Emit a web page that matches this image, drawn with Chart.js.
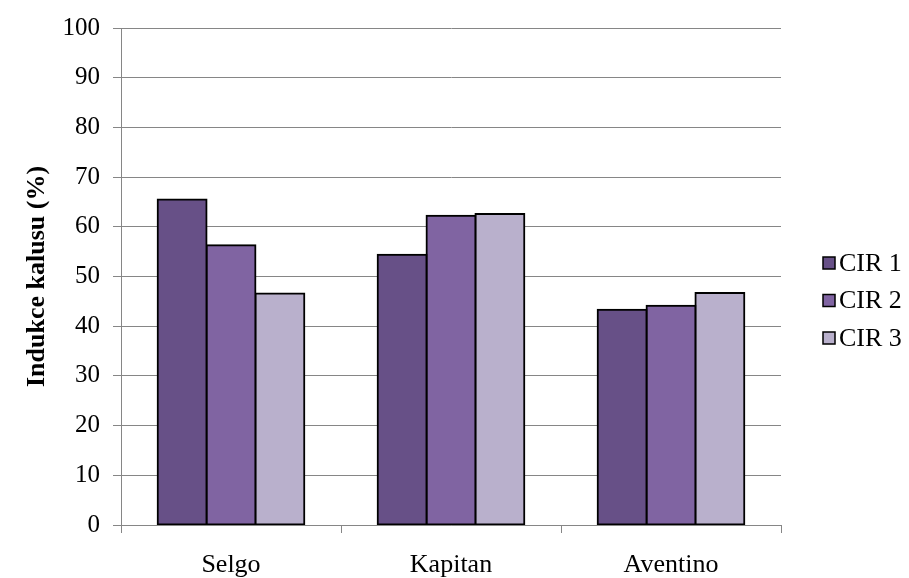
<!DOCTYPE html>
<html>
<head>
<meta charset="utf-8">
<script src="https://cdn.jsdelivr.net/npm/chart.js@4/dist/chart.umd.min.js"></script>
<style>
  html, body { margin: 0; padding: 0; background: #ffffff; }
  #wrap { width: 909px; height: 578px; }
</style>
</head>
<body>
<div id="wrap"><canvas id="chart" width="909" height="578"></canvas></div>
<script>
// Callus induction (%) per cultivar and induction medium
const categories = ['Selgo', 'Kapitan', 'Aventino'];
const seriesNames = ['CIR 1', 'CIR 2', 'CIR 3'];
const cir1 = [65.5, 54.4, 43.3];
const cir2 = [56.3, 62.2, 44.1];
const cir3 = [46.6, 62.6, 46.7];
const yTicks = [0, 10, 20, 30, 40, 50, 60, 70, 80, 90, 100];

const seriesColors = ['#675087', '#8064A2', '#B9B0CC'];
const gridGray = '#868686';
const serif = '"Liberation Serif", "Times New Roman", serif';

const datasets = [cir1, cir2, cir3].map((vals, i) => ({
  label: seriesNames[i],
  data: vals,
  backgroundColor: seriesColors[i],
  borderColor: '#000000',
  borderWidth: 2,
  borderSkipped: false,
  inflateAmount: 1,
  categoryPercentage: 3 / 4.5,
  barPercentage: 1.0
}));

// Legend at the right, drawn from the dataset labels and colours
const sideLegend = {
  id: 'sideLegend',
  afterDraw(chart) {
    const ctx = chart.ctx;
    const items = chart.data.datasets;
    const boxX = 823, textX = 839, box = 12;
    const firstY = 263, step = 37.5;
    ctx.save();
    ctx.font = '26px ' + serif;
    ctx.textBaseline = 'middle';
    ctx.textAlign = 'left';
    items.forEach((ds, i) => {
      const cy = firstY + i * step;
      ctx.fillStyle = ds.backgroundColor;
      ctx.fillRect(boxX, cy - box / 2, box, box);
      ctx.strokeStyle = '#000000';
      ctx.lineWidth = 1.5;
      ctx.strokeRect(boxX, cy - box / 2, box, box);
      ctx.fillStyle = '#000000';
      ctx.fillText(ds.label, textX, cy + 1);
    });
    ctx.restore();
  }
};

new Chart(document.getElementById('chart'), {
  type: 'bar',
  data: { labels: categories, datasets: datasets },
  options: {
    responsive: false,
    animation: false,
    layout: { padding: { top: 26, right: 128, left: 0, bottom: 0 } },
    plugins: {
      legend: { display: false },
      tooltip: { enabled: false }
    },
    scales: {
      x: {
        offset: true,
        grid: {
          offset: true,
          drawOnChartArea: false,
          drawTicks: true,
          tickLength: 8,
          color: gridGray,
          lineWidth: 1
        },
        border: { display: true, color: gridGray, width: 1 },
        ticks: {
          color: '#000000',
          font: { family: serif, size: 26 },
          padding: 17
        },
        afterFit(scale) { scale.height = 53; }
      },
      y: {
        min: 0,
        max: 100,
        afterBuildTicks(scale) { scale.ticks = yTicks.map(v => ({ value: v })); },
        grid: {
          color: gridGray,
          lineWidth: 1,
          drawTicks: true,
          tickLength: 8
        },
        border: { display: true, color: gridGray, width: 1 },
        ticks: {
          color: '#000000',
          font: { family: serif, size: 25 },
          padding: 13
        },
        title: {
          display: true,
          text: 'Indukce kalusu (%)',
          color: '#000000',
          font: { family: serif, size: 26, weight: 'bold' },
          padding: { top: 22, bottom: 0 }
        },
        afterFit(scale) { scale.width = 121; }
      }
    }
  },
  plugins: [sideLegend]
});
</script>
</body>
</html>
